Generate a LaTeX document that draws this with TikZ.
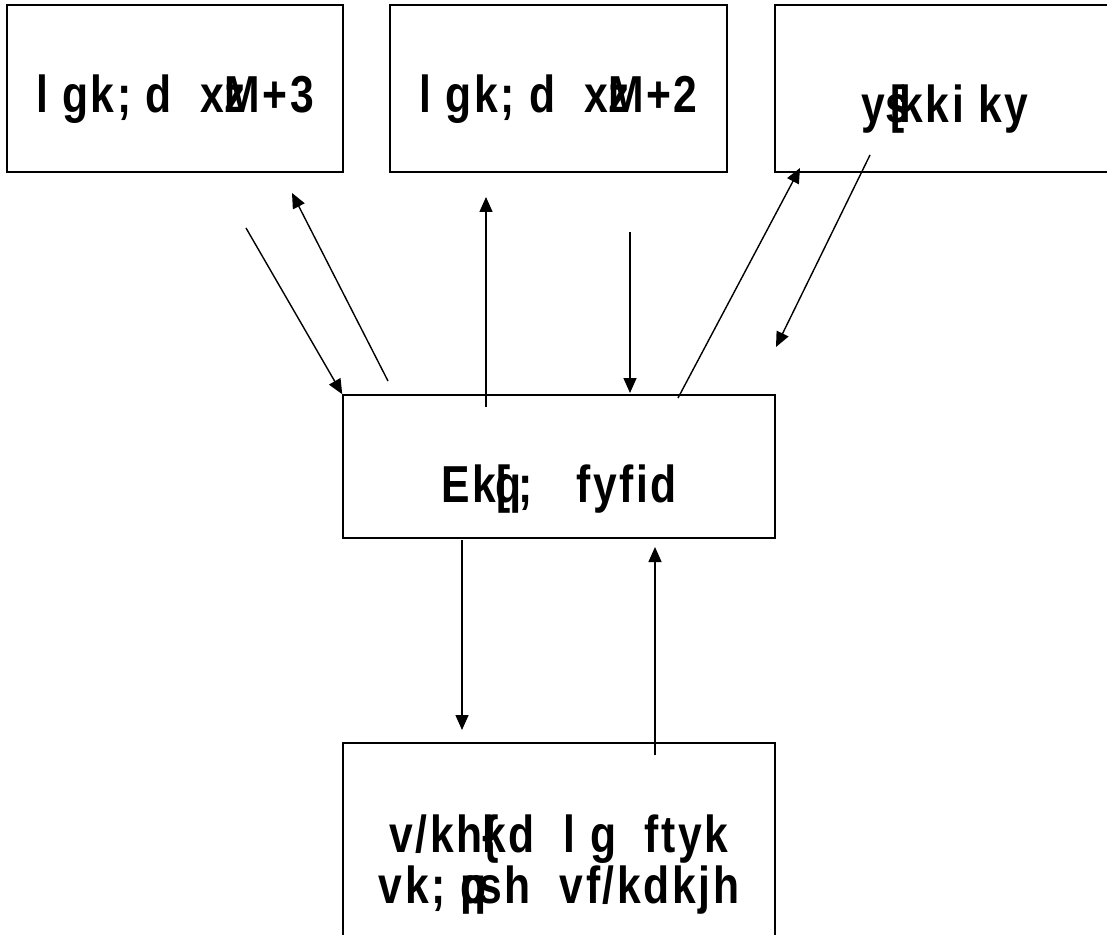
\documentclass[tikz,border=0pt]{standalone}
\usepackage{fontspec}
\setmainfont{Liberation Sans}[FakeStretch=0.82, LetterSpace=5]
\usetikzlibrary{positioning, arrows.meta}
\tikzset{
    post/.style={draw, rectangle, line width=0.75pt, inner sep=0pt,
        font=\fontsize{26}{22}\selectfont\bfseries},
    conn/.style={-{Triangle[length=7.5pt,width=6.5pt]}, line width=0.7pt},
}

\begin{document}
\begin{tikzpicture}[x=0.5pt, y=-0.5pt]
    \useasboundingbox (0,0) rectangle (1107,935);

    % upper posts
    \node[post, minimum width=168pt, minimum height=83.5pt] (sg3) at (175,88.5)
        {\raisebox{-12pt}[0pt][0pt]{l gk; d~ x\rlap{z}M+3}};
    \node[post, minimum width=168.5pt, minimum height=83.5pt] (sg2) at (558.5,88.5)
        {\raisebox{-12pt}[0pt][0pt]{l gk; d~ x\rlap{z}M+2}};
    \node[post, minimum width=170pt, minimum height=83.5pt] (lekha) at (945,88.5)
        {\raisebox{-17pt}[0pt][0pt]{y\rlap{s}\kern0.1em[\kern-0.1em kki ky}};

    % head clerk
    \node[post, minimum width=216pt, minimum height=71.5pt] (mukhya) at (559,466.5)
        {\raisebox{-18pt}[0pt][0pt]{Ek\rlap{q}[\,;~~ fyfid}};

    % officer
    \node[post, minimum width=216pt, minimum height=103.5pt] (adhi) at (559,846.5)
        {\raisebox{-3pt}[0pt][0pt]{\begin{tabular}[t]{@{}c@{}}v/kh\rlap{\{}kd~ l g~ ftyk\\ vk; \rlap{q}p\kern-0.15em sh~ vf/kdkjh\end{tabular}}};

    % free ends of the connectors
    \coordinate (a1) at (246,228);
    \coordinate (b1) at (388,381);
    \coordinate (b1e) at (292,193);
    \coordinate (c1) at (486,407);
    \coordinate (c1e) at (486,197);
    \coordinate (d1) at (630,232);
    \coordinate (d1e) at (630,393);
    \coordinate (e1) at (678,398);
    \coordinate (e1e) at (800,168);
    \coordinate (f1) at (870,155);
    \coordinate (f1e) at (776,347);
    \coordinate (g1) at (462,540);
    \coordinate (g1e) at (462,730);
    \coordinate (h1) at (655,755);
    \coordinate (h1e) at (655,547);

    \draw[conn] (a1) -- (mukhya.north west);
    \draw[conn] (b1) -- (b1e);
    \draw[conn] (c1) -- (c1e);
    \draw[conn] (d1) -- (d1e);
    \draw[conn] (e1) -- (e1e);
    \draw[conn] (f1) -- (f1e);
    \draw[conn] (g1) -- (g1e);
    \draw[conn] (h1) -- (h1e);
\end{tikzpicture}
\end{document}
